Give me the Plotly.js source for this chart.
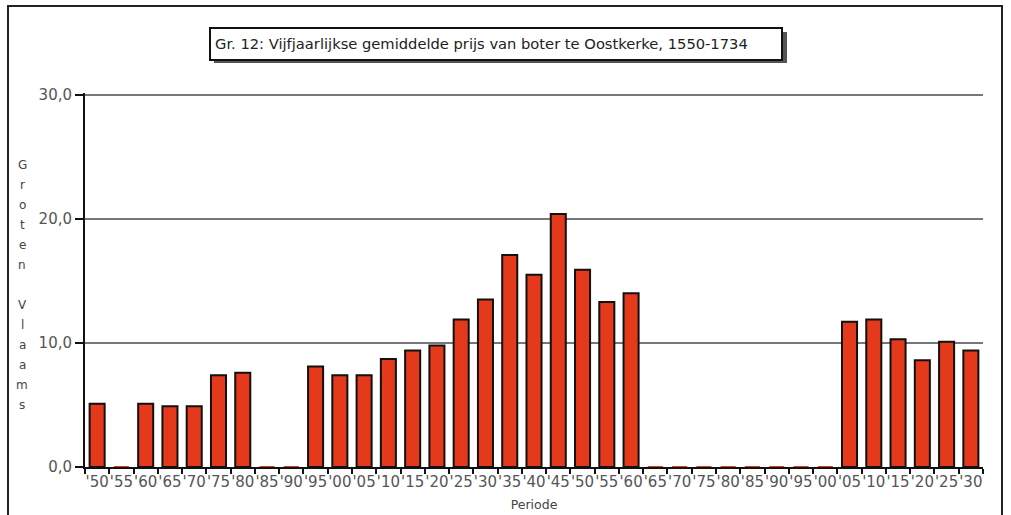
<!DOCTYPE html>
<html>
<head>
<meta charset="utf-8">
<script src="https://cdn.plot.ly/plotly-3.0.1.min.js"></script>
<style>
html,body{margin:0;padding:0;background:#fff;}
#chart{width:1011px;height:515px;}
</style>
</head>
<body>
<div id="chart"></div>
<script>
// Period labels (five-year periods, 1550-1730)
const periods = ["1550","1555","1560","1565","1570","1575","1580","1585","1590","1595",
  "1600","1605","1610","1615","1620","1625","1630","1635","1640","1645",
  "1650","1655","1660","1665","1670","1675","1680","1685","1690","1695",
  "1700","1705","1710","1715","1720","1725","1730"];
const tickLabels = ["'50","'55","'60","'65","'70","'75","'80","'85","'90","'95",
  "'00","'05","'10","'15","'20","'25","'30","'35","'40","'45",
  "'50","'55","'60","'65","'70","'75","'80","'85","'90","'95",
  "'00","'05","'10","'15","'20","'25","'30"];
// Average butter price (groten Vlaams)
const prices = [5.1,0,5.1,4.9,4.9,7.4,7.6,0,0,8.1,
  7.4,7.4,8.7,9.4,9.8,11.9,13.5,17.1,15.5,20.4,
  15.9,13.3,14.0,0,0,0,0,0,0,0,
  0,11.7,11.9,10.3,8.6,10.1,9.4];
const yTicks = [0,10,20,30];
const yTickText = ["0,0","10,0","20,0","30,0"];
const titleText = "Gr. 12: Vijfjaarlijkse gemiddelde prijs van boter te Oostkerke, 1550-1734";
const yTitleLetters = ["G","r","o","t","e","n","","V","l","a","a","m","s"];

const barColor = "#E5391C";
const lineColors = prices.map(v => v > 0 ? "#111" : barColor);

const trace = {
  type: "bar",
  x: periods,
  y: prices,
  marker: {color: barColor, line: {color: lineColors, width: 2}},
  hoverinfo: "x+y"
};

// pixel -> paper helpers (plot area: x 85..983, y 93..467)
const L = 85, R = 983, T = 93, B = 467;
const px = v => (v - L) / (R - L);
const py = v => (B - v) / (B - T);

const annotations = [];
yTitleLetters.forEach((ch, i) => {
  if (!ch) return;
  annotations.push({
    xref: "paper", yref: "paper", x: px(22), y: py(165 + i * 20),
    text: ch, showarrow: false, xanchor: "center", yanchor: "middle",
    font: {family: "DejaVu Sans, Arial", size: 12, color: "#444"}
  });
});
annotations.push({
  xref: "paper", yref: "paper", x: px(213), y: py(44),
  text: titleText, showarrow: false, xanchor: "left", yanchor: "middle",
  font: {family: "DejaVu Sans, Arial", size: 14.7, color: "#222"}
});

const shapes = [
  // outer frame
  {type: "rect", xref: "paper", yref: "paper", x0: px(8), x1: px(1002), y0: py(530), y1: py(6),
   line: {color: "#222", width: 2}, fillcolor: "rgba(0,0,0,0)", layer: "below"},
  // title box shadow
  {type: "rect", xref: "paper", yref: "paper", x0: px(214), x1: px(787), y0: py(63), y1: py(32),
   line: {width: 0}, fillcolor: "#555", layer: "below"},
  // title box
  {type: "rect", xref: "paper", yref: "paper", x0: px(210), x1: px(782), y0: py(60), y1: py(28),
   line: {color: "#111", width: 2}, fillcolor: "#fff", layer: "below"}
];

const layout = {
  width: 1011, height: 515,
  margin: {l: L, r: 1011 - R, t: T, b: 515 - B},
  paper_bgcolor: "#fff", plot_bgcolor: "#fff",
  showlegend: false,
  bargap: 0.38,
  font: {family: "DejaVu Sans, Arial", color: "#444"},
  xaxis: {
    type: "category",
    range: [-0.5, periods.length - 0.5],
    tickmode: "array", tickvals: periods, ticktext: tickLabels,
    tickson: "boundaries",
    ticks: "outside", ticklen: 5, tickwidth: 2, tickcolor: "#111",
    tickangle: 0,
    tickfont: {family: "DejaVu Sans, Arial", size: 15, color: "#555"},
    showline: true, linecolor: "#111", linewidth: 2,
    showgrid: false, zeroline: false,
    title: {text: "Periode", standoff: 10, font: {family: "DejaVu Sans, Arial", size: 12.5, color: "#444"}}
  },
  yaxis: {
    range: [0, 30.15],
    tickmode: "array", tickvals: yTicks, ticktext: yTickText,
    ticks: "outside", ticklen: 8, tickwidth: 2, tickcolor: "#111",
    tickfont: {family: "DejaVu Sans, Arial", size: 15, color: "#555"},
    showline: true, linecolor: "#111", linewidth: 2,
    showgrid: true, gridcolor: "#777", gridwidth: 1.5,
    zeroline: false
  },
  shapes: shapes,
  annotations: annotations
};

Plotly.newPlot("chart", [trace], layout, {staticPlot: true, displayModeBar: false});
</script>
</body>
</html>
